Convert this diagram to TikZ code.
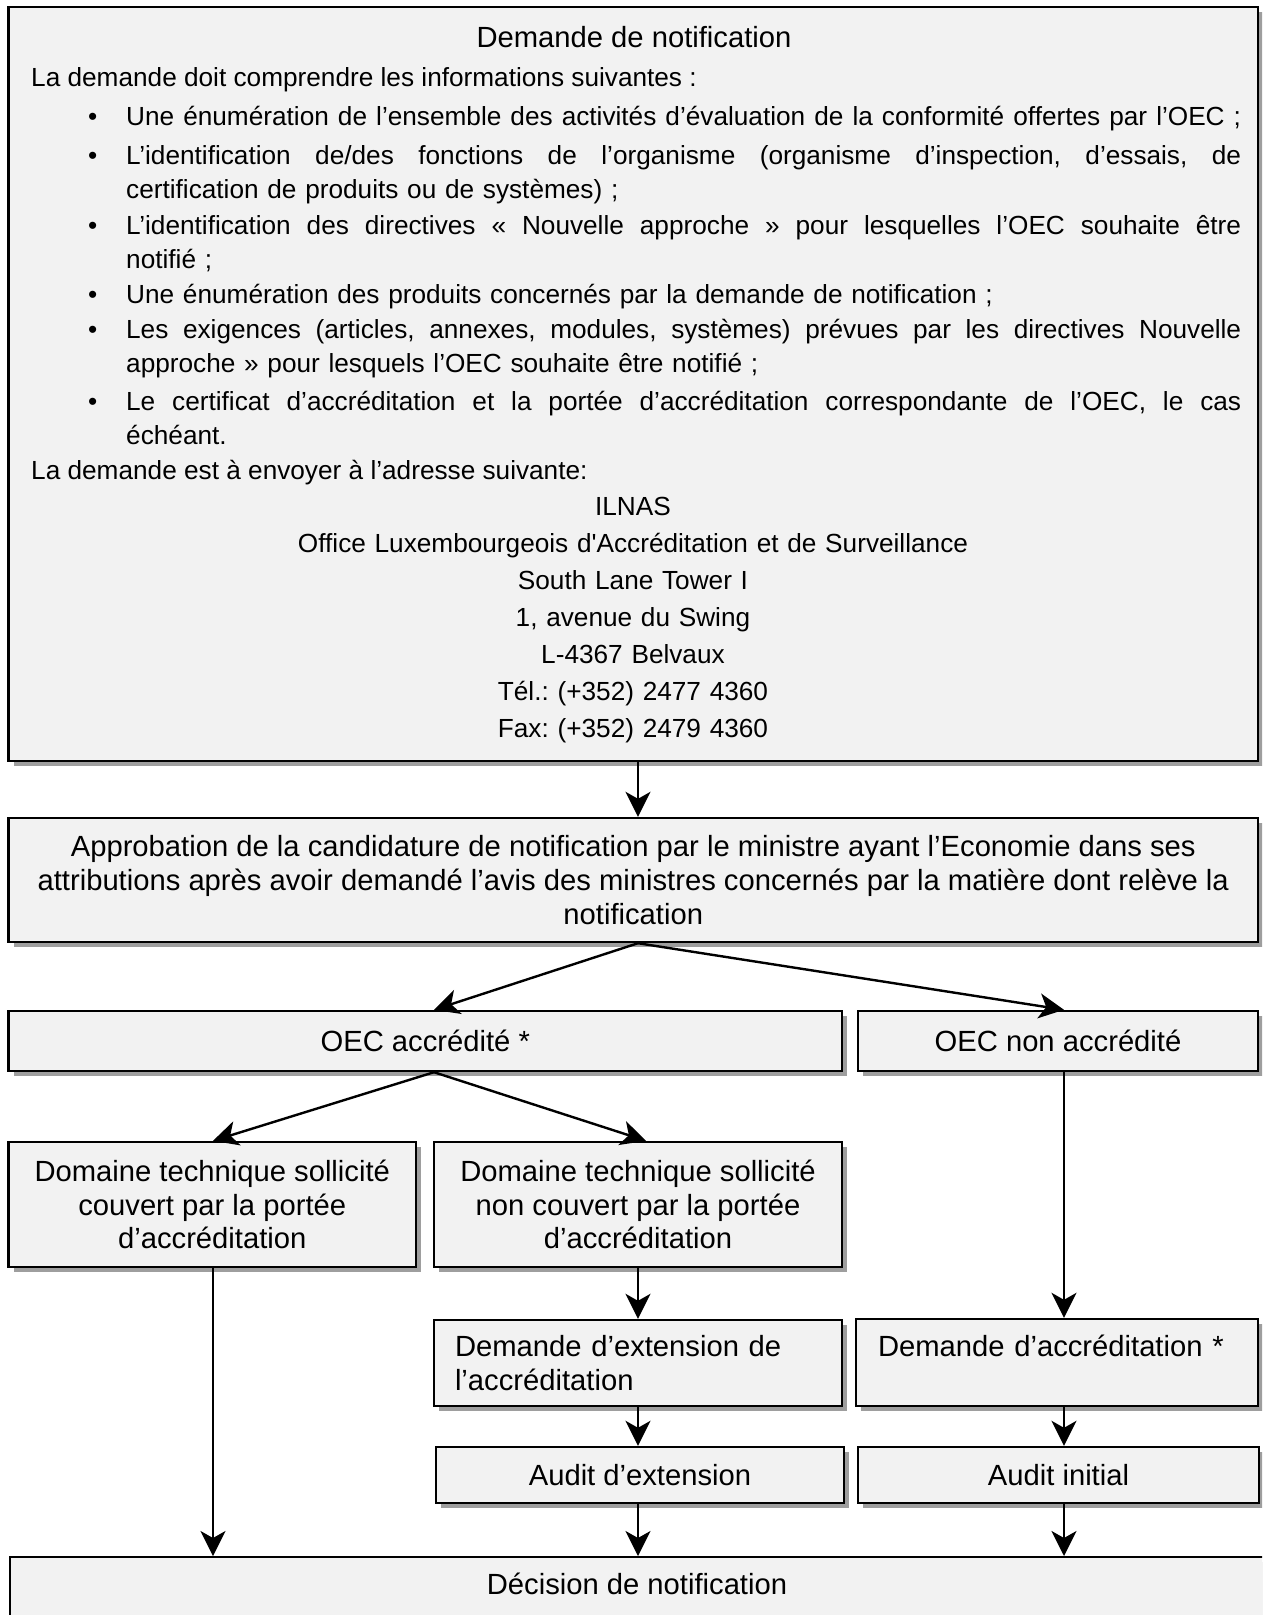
\documentclass[tikz,border=0pt]{standalone}
\usepackage{fontspec}
\setmainfont{Liberation Sans}
\usetikzlibrary{arrows.meta,shadows}
\definecolor{boxfill}{RGB}{242,242,242}
\definecolor{shade}{RGB}{158,158,158}
\frenchspacing
\newcommand{\puce}{\leavevmode\llap{\textbullet\hspace{29pt}}}
\newcommand{\jline}[1]{\makebox[1115pt][s]{\spaceskip=0.278em plus 1fill minus 0.08em #1}}
\newcommand{\apos}{\XeTeXglyph\XeTeXcharglyph"27\relax}

\begin{document}
\begin{tikzpicture}[x=1pt,y=-1pt,font=\fontsize{29.2}{33.7}\selectfont,
  box/.style={draw,line width=2.4pt,fill=boxfill,inner sep=0pt,align=center,
    drop shadow={shadow xshift=5pt,shadow yshift=-5pt,fill=shade,opacity=1}},
  lbox/.style={box,align=left,inner xsep=#1},
  arr/.style={-{Stealth[length=25pt,width=25pt,inset=7pt]},line width=2.4pt},
  txt/.style={inner sep=0pt,anchor=base west,font=\fontsize{26.2}{34.5}\selectfont},
  puces/.style={txt,text width=1115pt,align=left},
  adr/.style={txt,anchor=base,text width=900pt,align=center,font=\fontsize{26.2}{37.1}\selectfont}]
\useasboundingbox (0,0) rectangle (1262,1615);
\clip (0,0) rectangle (1262,1615);
% demande de notification
\node[box,minimum width=1249.5pt,minimum height=754pt] (demande) at (633.25,384) {};
\node[txt,anchor=base,font=\fontsize{29.2}{33.7}\selectfont] (titre) at (634,47) {Demande de notification};
\node[txt] (intro) at (31,86.8) {La demande doit comprendre les informations suivantes :};
\node[puces] (p1) at (126,125.8) {\puce\jline{Une énumération de l’ensemble des activités d’évaluation de la conformité offertes par l’OEC ;}};
\node[puces] (p2) at (126,164) {\puce\jline{L’identification de/des fonctions de l’organisme (organisme d’inspection, d’essais, de}\\certification de produits ou de systèmes) ;};
\node[puces] (p3) at (126,234.3) {\puce\jline{L’identification des directives « Nouvelle approche » pour lesquelles l’OEC souhaite être}\\notifié ;};
\node[puces] (p4) at (126,303) {\puce Une énumération des produits concernés par la demande de notification ;};
\node[puces] (p5) at (126,338.3) {\puce\jline{Les exigences (articles, annexes, modules, systèmes) prévues par les directives Nouvelle}\\approche » pour lesquels l’OEC souhaite être notifié ;};
\node[puces] (p6) at (126,410) {\puce\jline{Le certificat d’accréditation et la portée d’accréditation correspondante de l’OEC, le cas}\\échéant.};
\node[txt] (envoi) at (31,479) {La demande est à envoyer à l’adresse suivante:};
\node[adr] (ilnas) at (633,515.1) {ILNAS\\Office Luxembourgeois d\apos Accréditation et de Surveillance\\South Lane Tower I\\1, avenue du Swing\\L-4367 Belvaux\\Tél.: (+352) 2477 4360\\Fax: (+352) 2479 4360};
% etapes
\node[box,minimum width=1249.5pt,minimum height=124pt] (approb) at (633.25,880)
  {Approbation de la candidature de notification par le ministre ayant l’Economie dans ses\\
   attributions après avoir demandé l’avis des ministres concernés par la matière dont relève la\\
   notification};
\node[box,minimum width=833.5pt,minimum height=60pt] (oecA) at (425.25,1041) {OEC accrédité *};
\node[box,minimum width=400pt,minimum height=60pt] (oecN) at (1058,1041) {OEC non accrédité};
\node[box,minimum width=407.5pt,minimum height=125pt] (domC) at (212.25,1204.5)
  {Domaine technique sollicité\\couvert par la portée\\d’accréditation};
\node[box,minimum width=408pt,minimum height=125pt] (domN) at (638,1204.5)
  {Domaine technique sollicité\\non couvert par la portée\\d’accréditation};
\node[lbox=21pt,text width=366pt,minimum height=86pt] (demExt) at (638,1363)
  {Demande d’extension de\\l’accréditation};
\node[lbox=22pt,text width=358pt,minimum height=87pt] (demAcc) at (1057,1362.5)
  {Demande d’accréditation *\\\mbox{}};
\node[box,minimum width=408pt,minimum height=56pt] (audExt) at (640,1475) {Audit d’extension};
\node[box,minimum width=401pt,minimum height=56pt] (audIni) at (1058.5,1475) {Audit initial};
\node[box,minimum width=1257pt,minimum height=150pt,anchor=north west] (decision) at (8.5,1556) {};
\node[inner sep=0pt,anchor=base] (decTxt) at (637,1594) {Décision de notification};
% fleches
\coordinate (xa) at (638,0);
\coordinate (xb) at (434,0);
\coordinate (xc) at (1064,0);
\coordinate (xd) at (213,0);
\coordinate (xe) at (646,0);
\draw[arr] (demande.south -| xa) -- (approb.north -| xa);
\draw[arr] (approb.south -| xa) -- (oecA.north -| xb);
\draw[arr] (approb.south -| xa) -- (oecN.north -| xc);
\draw[arr] (oecA.south -| xb) -- (domC.north -| xd);
\draw[arr] (oecA.south -| xb) -- (domN.north -| xe);
\draw[arr] (domN.south -| xa) -- (demExt.north -| xa);
\draw[arr] (oecN.south -| xc) -- (demAcc.north -| xc);
\draw[arr] (demExt.south -| xa) -- (audExt.north -| xa);
\draw[arr] (demAcc.south -| xc) -- (audIni.north -| xc);
\draw[arr] (domC.south -| xd) -- (decision.north -| xd);
\draw[arr] (audExt.south -| xa) -- (decision.north -| xa);
\draw[arr] (audIni.south -| xc) -- (decision.north -| xc);
\end{tikzpicture}
\end{document}
